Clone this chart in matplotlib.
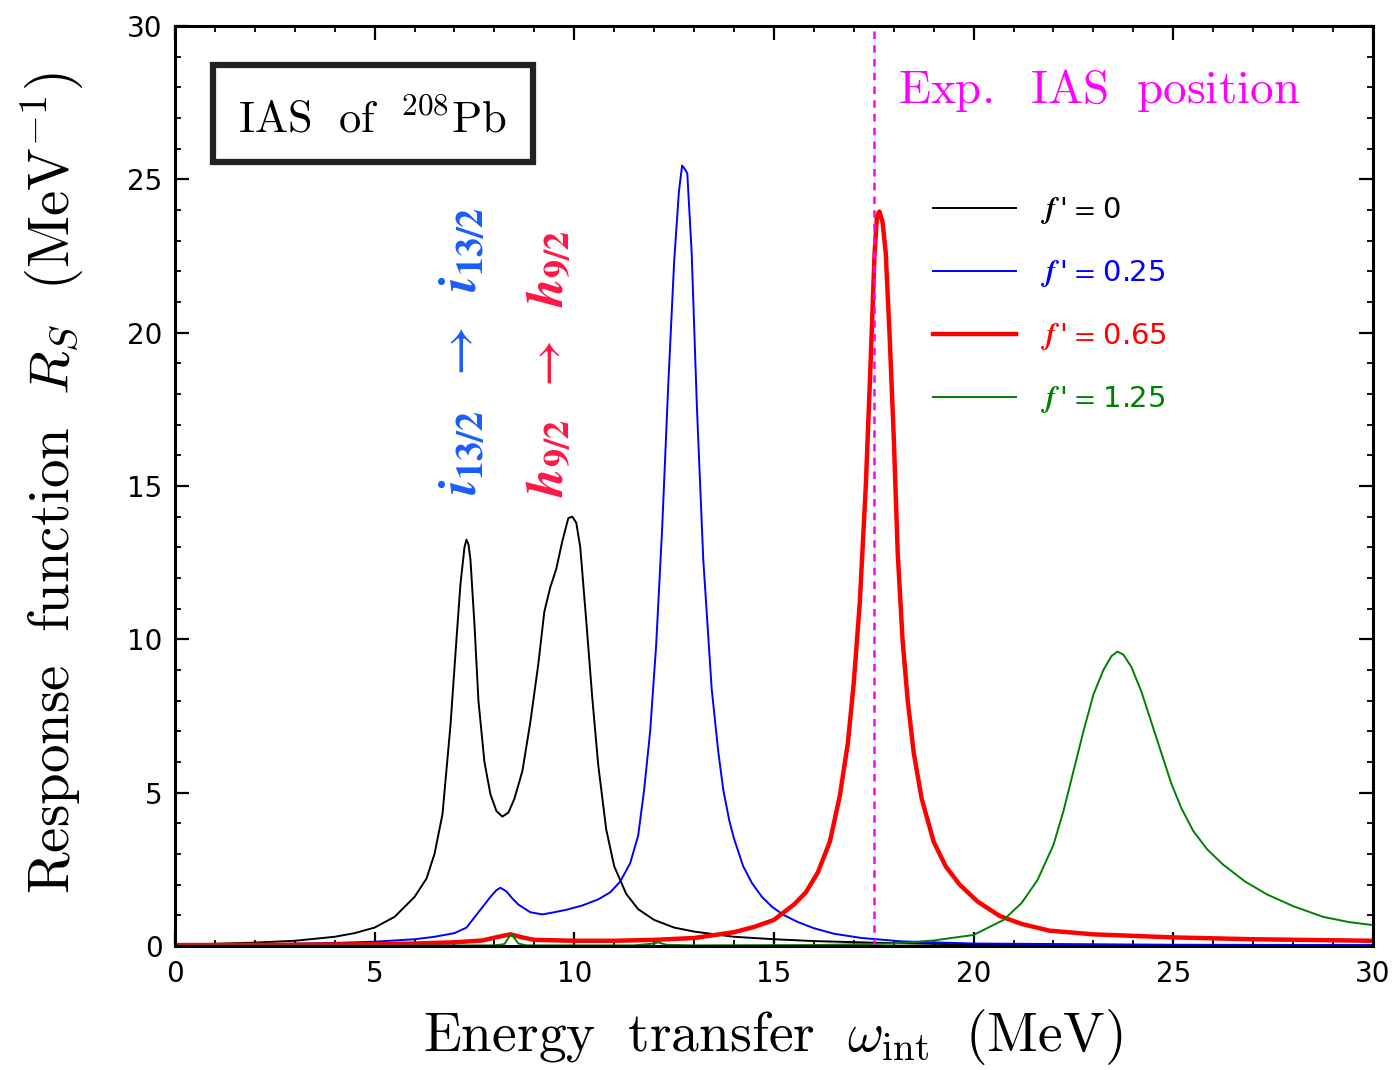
import numpy as np
import matplotlib.pyplot as plt
from matplotlib.patches import Rectangle
from matplotlib.font_manager import FontProperties

plt.rcParams['mathtext.fontset'] = 'cm'
plt.rcParams['font.family'] = ['DejaVu Sans']

# f' = 0
x_f0 = [0, 1, 2, 3, 4, 4.5, 5, 5.5, 6.0, 6.3, 6.5, 6.7, 6.9, 7.05, 7.15, 7.25, 7.3,
        7.35, 7.4, 7.5, 7.6, 7.75, 7.9, 8.05, 8.2, 8.35, 8.5, 8.7, 8.9, 9.1, 9.25,
        9.4, 9.55, 9.7, 9.85, 9.95, 10.05, 10.15, 10.3, 10.45, 10.6, 10.8, 11.0,
        11.3, 11.6, 12.0, 12.5, 13, 14, 15, 16, 18, 20, 25, 30]
y_f0 = [0.05, 0.07, 0.11, 0.17, 0.3, 0.42, 0.6, 0.95, 1.6, 2.2, 3.0, 4.3, 7.2, 10.0,
        11.8, 13.0, 13.25, 13.1, 12.6, 10.5, 8.0, 6.0, 4.95, 4.4, 4.22, 4.35, 4.8,
        5.7, 7.3, 9.2, 10.9, 11.7, 12.3, 13.2, 13.95, 14.0, 13.8, 13.0, 10.6, 8.1,
        5.9, 3.8, 2.6, 1.7, 1.2, 0.85, 0.6, 0.47, 0.3, 0.22, 0.16, 0.09, 0.05, 0.02,
        0.01]

# f' = 0.25
x_f025 = [0, 2, 4, 5, 6, 6.5, 7.0, 7.3, 7.6, 7.9, 8.05, 8.15, 8.3, 8.45, 8.6, 8.9,
          9.2, 9.5, 9.8, 10.2, 10.6, 10.9, 11.15, 11.4, 11.6, 11.75, 11.9, 12.05,
          12.2, 12.35, 12.5, 12.62, 12.7, 12.76, 12.83, 12.94, 13.07, 13.23, 13.44,
          13.6, 13.73, 13.88, 14.0, 14.23, 14.45, 14.7, 14.95, 15.23, 15.6, 16.0,
          16.5, 17.2, 18.2, 20, 25, 30]
y_f025 = [0.03, 0.05, 0.1, 0.14, 0.22, 0.3, 0.42, 0.6, 1.1, 1.6, 1.82, 1.9, 1.78,
          1.55, 1.35, 1.1, 1.03, 1.1, 1.18, 1.32, 1.52, 1.75, 2.1, 2.7, 3.6, 5.1,
          7.0, 9.8, 13.6, 18.2, 22.3, 24.6, 25.45, 25.35, 25.2, 22.6, 17.6, 12.6,
          8.4, 6.4, 5.1, 4.1, 3.5, 2.6, 2.05, 1.6, 1.28, 1.02, 0.78, 0.58, 0.4, 0.26,
          0.15, 0.08, 0.04, 0.03]

# f' = 0.65
x_f065 = [0, 3, 5, 6, 7, 7.7, 8.1, 8.4, 8.7, 9.0, 10, 11, 12, 13, 14, 14.5, 15.0,
          15.5, 15.8, 16.1, 16.4, 16.65, 16.85, 17.0, 17.15, 17.3, 17.42, 17.52,
          17.58, 17.64, 17.72, 17.8, 17.9, 18.0, 18.1, 18.22, 18.35, 18.5, 18.7,
          19.0, 19.3, 19.65, 20.1, 20.65, 21.2, 21.9, 23, 25, 27, 30]
y_f065 = [0.03, 0.04, 0.06, 0.08, 0.12, 0.18, 0.3, 0.38, 0.28, 0.2, 0.17, 0.17, 0.2,
          0.26, 0.45, 0.62, 0.85, 1.35, 1.75, 2.4, 3.4, 4.9, 6.6, 8.6, 11.2, 15.0,
          19.0, 22.6, 23.8, 23.95, 23.6, 22.6, 19.8, 16.6, 12.8, 10.0, 8.0, 6.3,
          4.8, 3.4, 2.6, 2.0, 1.45, 0.98, 0.72, 0.5, 0.38, 0.28, 0.22, 0.17]

# f' = 1.25
x_f125 = [0, 5, 8.0, 8.25, 8.42, 8.6, 8.8, 11.5, 12.0, 12.1, 12.3, 13, 16, 18, 19,
          20, 20.75, 21.2, 21.6, 22.0, 22.25, 22.5, 22.75, 23.0, 23.25, 23.45, 23.6,
          23.75, 23.95, 24.2, 24.45, 24.7, 24.95, 25.2, 25.5, 25.85, 26.25, 26.8,
          27.35, 28, 28.75, 29.4, 30]
y_f125 = [0.01, 0.01, 0.02, 0.06, 0.4, 0.08, 0.02, 0.02, 0.08, 0.12, 0.04, 0.02,
          0.03, 0.08, 0.18, 0.36, 0.85, 1.4, 2.15, 3.3, 4.4, 5.7, 7.0, 8.2, 9.0, 9.45,
          9.6, 9.5, 9.1, 8.3, 7.3, 6.3, 5.3, 4.5, 3.75, 3.15, 2.65, 2.1, 1.68, 1.3,
          0.95, 0.78, 0.68]

labels = ["0", "0.25", "0.65", "1.25"]
colors = ["black", "#0000ff", "#ff0000", "#008000"]
widths = [1.4, 1.4, 3.2, 1.4]
exp_ias = 17.5

fig = plt.figure(figsize=(13.95, 10.7), dpi=100)
ax = fig.add_axes([0.1254, 0.1159, 0.8588, 0.8598])

series = [(x_f0, y_f0), (x_f025, y_f025), (x_f065, y_f065), (x_f125, y_f125)]
for (xs, ys), lab, c, lw in zip(series, labels, colors, widths):
    ax.plot(xs, ys, color=c, lw=lw, solid_joinstyle='round',
            label=r"$\mathbfit{f}\,$" + "'" + r"$\,=\,$" + lab)

ax.axvline(exp_ias, color="#ff00ff", lw=1.8, ls=(0, (3, 2.5)))

ax.set_xlim(0, 30)
ax.set_ylim(0, 30)
ax.set_xticks(np.arange(0, 31, 5))
ax.set_yticks(np.arange(0, 31, 5))
ax.set_xticks(np.arange(0, 31, 1), minor=True)
ax.set_yticks(np.arange(0, 31, 1), minor=True)
ax.tick_params(which='both', direction='in', top=True, right=True, labelsize=20)
ax.tick_params(which='major', length=10, width=1.6)
ax.tick_params(which='minor', length=4, width=1.3)
ax.tick_params(axis='x', pad=10)
ax.tick_params(axis='y', pad=9)
for s in ax.spines.values():
    s.set_linewidth(2.2)

ax.set_xlabel(r"$\mathrm{Energy\ \ transfer}\ \ \omega_{\mathrm{int}}\ \ (\mathrm{MeV})$",
              fontsize=40)
ax.set_ylabel(r"$\mathrm{Response\ \ function}\ \ R_S\ \ (\mathrm{MeV}^{-1})$",
              fontsize=41)
ax.xaxis.set_label_coords(0.499, -0.066)
ax.yaxis.set_label_coords(-0.075, 0.503)

# title box
ax.add_patch(Rectangle((0.0317, 0.852), 0.2671, 0.1056, transform=ax.transAxes,
                       fill=False, lw=4.5, ec="#222222", zorder=5))
ax.text(0.165, 0.898, r"$\mathrm{IAS\ \ of\ \ }^{208}\mathrm{Pb}$", transform=ax.transAxes,
        ha='center', va='center', fontsize=32)

ax.text(18.1, 27.9, r"$\mathrm{Exp.\ \ IAS\ \ position}$", color="#ff00ff",
        ha='left', va='center', fontsize=34)

ax.text(7.19, 19.4, r"$\mathbfit{i}_{\mathbf{13/2}}\ \ \rightarrow\ \ \mathbfit{i}_{\mathbf{13/2}}$",
        color="#1a5cff", rotation=90, ha='center', va='center', fontsize=39,
        math_fontfamily='stix')
ax.text(9.39, 19.0, r"$\mathbfit{h}_{\mathbf{9/2}}\ \ \rightarrow\ \ \mathbfit{h}_{\mathbf{9/2}}$",
        color="#ff1744", rotation=90, ha='center', va='center', fontsize=37,
        math_fontfamily='stix')

leg = ax.legend(loc='upper left', bbox_to_anchor=(933 / 1395, 1 - 195 / 1070),
                bbox_transform=fig.transFigure, frameon=False, borderpad=0,
                borderaxespad=0, handlelength=2.85, handletextpad=0.85,
                labelspacing=1.1, labelcolor='linecolor',
                prop=FontProperties(family='DejaVu Sans', size=21, math_fontfamily='stix'))

fig.savefig("out.png", dpi=100)
